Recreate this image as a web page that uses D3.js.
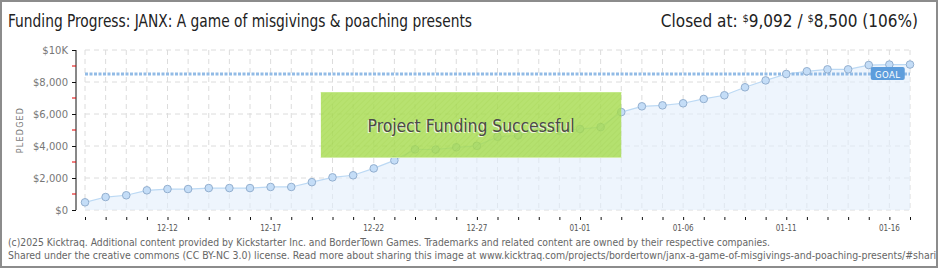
<!DOCTYPE html>
<html>
<head>
<meta charset="utf-8">
<script src="https://cdn.jsdelivr.net/npm/d3@7"></script>
<style>
  html, body { margin: 0; padding: 0; background: #fff; }
  svg { display: block; }
</style>
</head>
<body>
<div id="chart"></div>
<script>
// pledged totals, one per day from 12-08 to 01-17
const dates = d3.timeDays(new Date(2024, 11, 8), new Date(2025, 0, 18));
const pledged = [480, 810, 920, 1230, 1310, 1310, 1370, 1370, 1370, 1440,
  1440, 1740, 2040, 2170, 2600, 3100, 3790, 3780, 3920, 4010,
  4580, 4660, 5040, 4960, 5060, 5180, 6120, 6480, 6540, 6670,
  6940, 7170, 7670, 8100, 8500, 8670, 8790, 8790, 9060, 9090, 9092];
const goal = 8500;
const yTicks = [0, 2000, 4000, 6000, 8000, 10000];
const yMinor = [1000, 3000, 5000, 7000, 9000];
const xTickLabels = ['12-12', '12-17', '12-22', '12-27', '01-01', '01-06', '01-11', '01-16'];

const width = 940, height = 270;
const x0 = 85, x1 = 910, yTop = 50, yBottom = 210;

const svg = d3.select('#chart').append('svg')
  .attr('width', width)
  .attr('height', height);

const defs = svg.append('defs');
defs.append('clipPath').attr('id', 'frame')
  .append('rect').attr('x', 2).attr('y', 2).attr('width', 934).attr('height', 264);
const hatch = defs.append('pattern').attr('id', 'hatch')
  .attr('patternUnits', 'userSpaceOnUse').attr('width', 4).attr('height', 4)
  .attr('patternTransform', 'rotate(45)');
hatch.append('rect').attr('width', 4).attr('height', 4).attr('fill', '#a7dc50');
hatch.append('line').attr('x1', 0).attr('y1', 0).attr('x2', 0).attr('y2', 4)
  .attr('stroke', '#9fd444').attr('stroke-width', 1.5);

const x = d3.scaleTime()
  .domain([dates[0], dates[dates.length - 1]])
  .range([x0, x1]);
const y = d3.scaleLinear().domain([0, 10000]).range([yBottom, yTop]);

const data = dates.map((d, i) => ({date: d, value: pledged[i]}));

// frame
svg.append('rect')
  .attr('x', 1).attr('y', 1).attr('width', 936).attr('height', 266)
  .attr('fill', '#fff').attr('stroke', '#8c8c8c').attr('stroke-width', 2);

const narrow = '"Liberation Sans Narrow", "DejaVu Sans Condensed", sans-serif';

// title
svg.append('text')
  .attr('x', 8).attr('y', 27)
  .attr('font-family', narrow).attr('font-size', 17).attr('fill', '#222')
  .attr('textLength', 464).attr('lengthAdjust', 'spacingAndGlyphs')
  .text('Funding Progress: JANX: A game of misgivings & poaching presents');

const closed = svg.append('text')
  .attr('x', 918).attr('y', 27).attr('text-anchor', 'end')
  .attr('font-family', narrow).attr('font-size', 17).attr('fill', '#222');
closed.append('tspan').text('Closed at:  ');
closed.append('tspan').attr('font-size', 11).attr('dy', -5).text('$');
closed.append('tspan').attr('dy', 5).text('9,092 /  ');
closed.append('tspan').attr('font-size', 11).attr('dy', -5).text('$');
closed.append('tspan').attr('dy', 5).text('8,500 (106%)');

// grid
const grid = svg.append('g')
  .attr('stroke', '#dcdcdc').attr('stroke-dasharray', '5,4').attr('fill', 'none');
grid.selectAll('.h').data(yTicks).join('line')
  .attr('x1', x0).attr('x2', x1)
  .attr('y1', d => y(d)).attr('y2', d => y(d));
grid.selectAll('.v').data(dates).join('line')
  .attr('x1', d => x(d)).attr('x2', d => x(d))
  .attr('y1', yTop).attr('y2', yBottom);

// area + line
svg.append('path').datum(data)
  .attr('fill', '#e3eefc').attr('fill-opacity', 0.6)
  .attr('d', d3.area().x(d => x(d.date)).y0(yBottom).y1(d => y(d.value)));
svg.append('path').datum(data)
  .attr('fill', 'none').attr('stroke', '#bcd9f4').attr('stroke-width', 1.2)
  .attr('d', d3.line().x(d => x(d.date)).y(d => y(d.value)));

// goal line
svg.append('line')
  .attr('x1', x0).attr('x2', x1)
  .attr('y1', y(goal)).attr('y2', y(goal))
  .attr('stroke', '#92bbe6').attr('stroke-width', 3)
  .attr('stroke-dasharray', '3,1.5');

// points
svg.append('g').selectAll('circle').data(data).join('circle')
  .attr('cx', d => x(d.date)).attr('cy', d => y(d.value)).attr('r', 3.8)
  .attr('fill', '#c4ddf7').attr('stroke', '#93afcf').attr('stroke-width', 1);

// goal tag
const gx = x(dates[dates.length - 3]) + 2;
svg.append('rect')
  .attr('x', gx).attr('y', y(goal) - 7).attr('width', 34).attr('height', 13)
  .attr('rx', 2).attr('fill', '#5d9ddc');
svg.append('text')
  .attr('x', gx + 17).attr('y', y(goal) + 3.5).attr('text-anchor', 'middle')
  .attr('font-family', '"DejaVu Sans", sans-serif').attr('font-size', 8.5)
  .attr('fill', '#fff').attr('letter-spacing', 0.5)
  .text('GOAL');

// success banner
const bx0 = x(dates[11]) + 9, bx1 = x(dates[26]);
const banner = svg.append('g');
banner.append('rect')
  .attr('x', bx0).attr('y', 92).attr('width', bx1 - bx0).attr('height', 66)
  .attr('fill', 'url(#hatch)').attr('opacity', 0.82);
banner.append('line').attr('x1', bx0).attr('x2', bx1).attr('y1', 92.5).attr('y2', 92.5)
  .attr('stroke', '#c3e98a');
banner.append('line').attr('x1', bx0).attr('x2', bx1).attr('y1', 157.5).attr('y2', 157.5)
  .attr('stroke', '#d3eda8');
const bt = (bx0 + bx1) / 2;
banner.append('text')
  .attr('x', bt - 1).attr('y', 133).attr('text-anchor', 'middle')
  .attr('font-family', narrow).attr('font-size', 18).attr('fill', '#eef8dc')
  .attr('textLength', 207).attr('lengthAdjust', 'spacingAndGlyphs')
  .text('Project Funding Successful');
banner.append('text')
  .attr('x', bt).attr('y', 132).attr('text-anchor', 'middle')
  .attr('font-family', narrow).attr('font-size', 18).attr('fill', '#4a4a4a')
  .attr('textLength', 207).attr('lengthAdjust', 'spacingAndGlyphs')
  .text('Project Funding Successful');

// y axis
const yAxis = svg.append('g').attr('transform', 'translate(76,0)')
  .call(d3.axisLeft(y).tickValues(yTicks).tickSize(4).tickPadding(4)
    .tickFormat(d => d === 10000 ? '$10K' : d3.format('$,')(d)));
yAxis.select('.domain').attr('stroke', '#111').attr('d', `M0,${yTop}V${yBottom}`);
yAxis.selectAll('.tick line').attr('stroke', '#111');
yAxis.selectAll('text')
  .attr('font-family', '"DejaVu Sans", sans-serif').attr('font-size', 10).attr('fill', '#777');
svg.append('g').selectAll('line').data(yMinor).join('line')
  .attr('x1', 72).attr('x2', 76)
  .attr('y1', d => y(d)).attr('y2', d => y(d))
  .attr('stroke', '#e00000');

svg.append('text')
  .attr('transform', `translate(23,${(yTop + yBottom) / 2}) rotate(-90)`)
  .attr('text-anchor', 'middle')
  .attr('font-family', '"DejaVu Sans", sans-serif').attr('font-size', 8)
  .attr('letter-spacing', 1.2).attr('fill', '#777')
  .text('PLEDGED');

// x axis ticks and labels
const xAxis = svg.append('g').attr('transform', `translate(0,${yBottom + 7})`)
  .call(d3.axisBottom(x).tickValues(dates).tickSize(3).tickFormat(''));
xAxis.select('.domain').remove();
xAxis.selectAll('.tick line').attr('stroke', '#111');

const labelDates = xTickLabels.map(s => {
  const [m, d] = s.split('-').map(Number);
  return new Date(m === 12 ? 2024 : 2025, m - 1, d);
});
svg.append('g').selectAll('text').data(labelDates).join('text')
  .attr('x', d => x(d)).attr('y', 231).attr('text-anchor', 'middle')
  .attr('font-family', '"DejaVu Sans Condensed", sans-serif').attr('font-size', 8)
  .attr('fill', '#555')
  .text((d, i) => xTickLabels[i]);

// footer
const foot = svg.append('g').attr('clip-path', 'url(#frame)')
  .attr('font-family', narrow).attr('font-size', 10.5).attr('fill', '#666');
foot.append('text').attr('x', 8).attr('y', 246)
  .attr('textLength', 762).attr('lengthAdjust', 'spacingAndGlyphs')
  .text('(c)2025 Kicktraq. Additional content provided by Kickstarter Inc. and BorderTown Games. Trademarks and related content are owned by their respective companies.');
foot.append('text').attr('x', 8).attr('y', 259)
  .attr('textLength', 940).attr('lengthAdjust', 'spacingAndGlyphs')
  .text('Shared under the creative commons (CC BY-NC 3.0) license. Read more about sharing this image at www.kicktraq.com/projects/bordertown/janx-a-game-of-misgivings-and-poaching-presents/#sharing');
</script>
</body>
</html>
